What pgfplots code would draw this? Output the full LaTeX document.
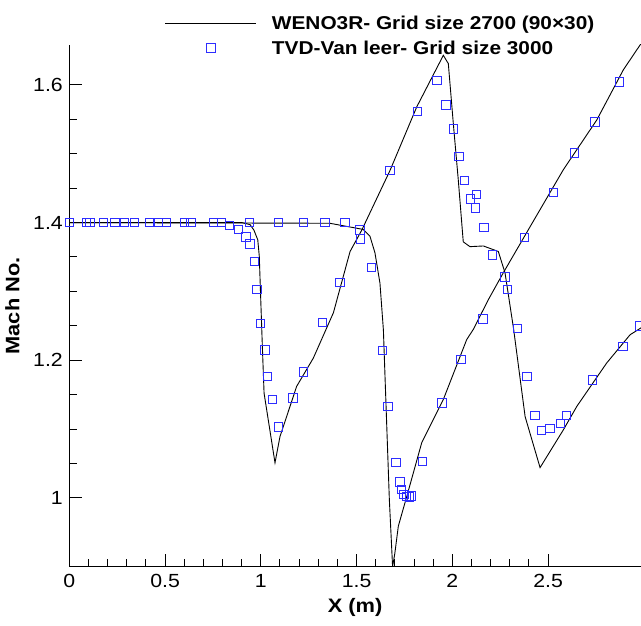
\documentclass[border=0pt]{standalone}
\usepackage{pgfplots}
\pgfplotsset{compat=1.18}
\usepackage{fontspec}
\setmainfont{Liberation Sans}[FakeStretch=1.12]
\definecolor{mkblue}{RGB}{45,45,255}

\pgfplotstableread{
x y
0 1.4
0.90 1.4
0.944 1.397
0.964 1.389
0.984 1.375
0.992 1.351
0.999 1.293
1.008 1.220
1.017 1.152
1.074 1.051
1.100 1.089
1.187 1.162
1.274 1.203
1.379 1.269
1.466 1.358
1.527 1.389
1.675 1.476
1.814 1.568
1.953 1.643
1.979 1.631
2.005 1.544
2.031 1.462
2.057 1.372
2.092 1.365
2.162 1.366
2.240 1.358
2.275 1.327
2.320 1.245
2.380 1.118
2.458 1.044
2.580 1.099
2.650 1.133
2.806 1.196
2.928 1.237
2.985 1.247
}\wenoA

\pgfplotstableread{
x y
0 1.4
1.36 1.399
1.535 1.390
1.570 1.380
1.596 1.356
1.622 1.312
1.640 1.244
1.649 1.172
1.671 0.998
1.688 0.900
1.700 0.920
1.718 0.959
1.762 1.002
1.840 1.080
1.953 1.143
2.075 1.230
2.110 1.245
2.188 1.288
2.266 1.327
2.406 1.394
2.580 1.477
2.754 1.549
2.893 1.622
2.985 1.660
}\wenoB

\pgfplotstableread{
x y
0.000 1.4
0.091 1.4
0.108 1.4
0.178 1.4
0.239 1.4
0.287 1.4
0.339 1.4
0.418 1.4
0.465 1.4
0.509 1.4
0.601 1.4
0.636 1.4
0.752 1.4
0.796 1.4
0.836 1.396
0.940 1.4
1.091 1.4
1.222 1.4
1.335 1.4
1.440 1.4
0.883 1.390
0.923 1.379
0.944 1.369
0.966 1.343
0.979 1.303
0.999 1.253
1.022 1.215
1.036 1.176
1.060 1.143
1.093 1.103
1.167 1.145
1.222 1.183
1.323 1.255
1.414 1.313
1.518 1.389
1.522 1.376
1.579 1.335
1.675 1.476
1.819 1.561
1.919 1.606
1.966 1.571
2.005 1.536
2.035 1.496
2.063 1.461
2.127 1.441
2.096 1.434
2.122 1.421
2.166 1.393
2.209 1.353
2.275 1.321
2.289 1.303
2.376 1.378
2.527 1.444
2.637 1.501
2.745 1.546
2.872 1.604
1.634 1.214
1.663 1.133
1.706 1.051
1.727 1.023
1.736 1.012
1.748 1.005
1.762 1.002
1.775 1.001
1.788 1.003
1.843 1.053
1.945 1.138
2.045 1.201
2.159 1.260
2.339 1.246
2.389 1.176
2.432 1.120
2.467 1.098
2.510 1.101
2.566 1.108
2.597 1.120
2.733 1.171
2.890 1.220
2.980 1.250
}\tvd

\begin{document}
\begin{tikzpicture}
\begin{axis}[
  at={(0pt,0pt)}, anchor=south west,
  scale only axis, width=571.7pt, height=521.7pt,
  xmin=0, xmax=2.985, ymin=0.9, ymax=1.658,
  axis x line*=bottom, axis y line*=left,
  axis line style={-, line width=1.2pt},
  xtick={0,0.5,1,1.5,2,2.5}, ytick={1,1.2,1.4,1.6},
  minor x tick num=4, minor y tick num=3,
  tick align=inside,
  major tick length=13pt, minor tick length=8pt,
  every tick/.style={black, line width=1pt},
  /pgf/number format/assume math mode=true,
  ticklabel style={font=\fontsize{19}{19}\selectfont},
  xticklabel style={yshift=-4pt},
  yticklabel style={xshift=-3pt},
  xlabel={X (m)}, ylabel={Mach No.},
  every axis x label/.style={at={(axis description cs:0.5,-0.0786)}, anchor=center, font=\fontsize{19.5}{19.5}\selectfont\bfseries},
  every axis y label/.style={at={(axis description cs:-0.0997,0.5)}, anchor=center, rotate=90, font=\fontsize{19.5}{19.5}\selectfont\bfseries},
  clip=true,
  legend cell align=left,
  legend style={draw=none, fill=none, inner sep=0pt, outer sep=0pt,
    at={(axis description cs:0.1674,1.055)}, anchor=north west,
    nodes={inner sep=0pt, text height=13.5pt, text depth=0pt},
    row sep=11.5pt,
    /tikz/every odd column/.append style={column sep=15pt},
    font=\fontsize{18.6}{18.6}\selectfont\bfseries},
]
\addplot[black, line width=0.9pt, legend image code/.code={\draw[black, line width=0.9pt] (0pt,0pt) -- (91pt,0pt);}] table[x=x,y=y] {\wenoA};
\addlegendentry{WENO3R- Grid size 2700 (90×30)}
\addplot[black, line width=0.9pt, forget plot] table[x=x,y=y] {\wenoB};
\addplot[only marks, mark=square, mark size=4.2pt, mkblue, mark options={line width=1pt, draw=mkblue},
  legend image code/.code={\draw[mkblue, line width=1pt] plot[mark=square, mark size=4.2pt, only marks] coordinates {(45.5pt,0pt)};}] table[x=x,y=y] {\tvd};
\addlegendentry{TVD-Van leer- Grid size 3000}
\end{axis}
\pgfresetboundingbox
\path[use as bounding box] (-69.3pt,-58.3pt) rectangle (571.7pt,566.7pt);
\end{tikzpicture}
\end{document}
